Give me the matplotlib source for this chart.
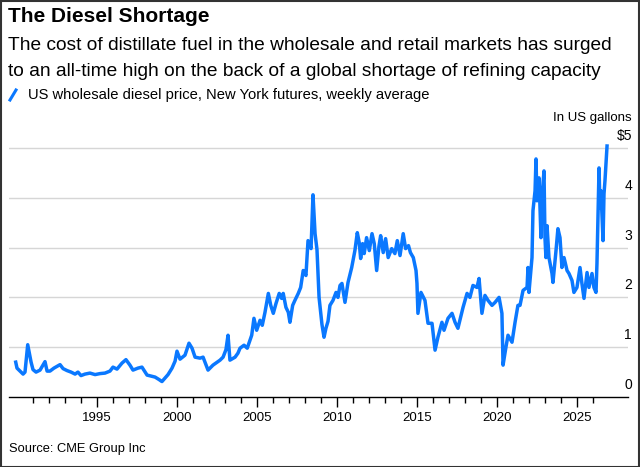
import matplotlib
matplotlib.use("Agg")
import matplotlib.pyplot as plt
import matplotlib.transforms as mtransforms
from matplotlib.lines import Line2D
from matplotlib.patches import Rectangle

# weekly average diesel price (year, $ per US gallon)
years = [
    1989.94, 1990.02, 1990.21, 1990.40, 1990.52, 1990.69, 1990.77, 1990.90,
    1991.02, 1991.21, 1991.46, 1991.77, 1991.90, 1992.08, 1992.33, 1992.71,
    1992.90, 1993.15, 1993.40, 1993.65, 1993.83, 1994.02, 1994.27, 1994.58,
    1994.90, 1995.21, 1995.52, 1995.83, 1996.02, 1996.27, 1996.58, 1996.83,
    1997.08, 1997.27, 1997.58, 1997.83, 1998.15, 1998.40, 1998.65, 1998.90,
    1999.08, 1999.27, 1999.46, 1999.71, 1999.90, 2000.02, 2000.21, 2000.52,
    2000.77, 2000.96, 2001.15, 2001.46, 2001.65, 2001.96, 2002.27, 2002.71,
    2002.90, 2003.08, 2003.21, 2003.33, 2003.65, 2003.83, 2003.96, 2004.21,
    2004.41, 2004.69, 2004.83, 2005.00, 2005.21, 2005.35, 2005.52, 2005.73,
    2005.88, 2006.04, 2006.21, 2006.41, 2006.56, 2006.66, 2006.83, 2006.98,
    2007.08, 2007.25, 2007.39, 2007.60, 2007.75, 2007.91, 2008.08, 2008.21,
    2008.40, 2008.52, 2008.65, 2008.77, 2008.90, 2009.08, 2009.21, 2009.33,
    2009.46, 2009.58, 2009.77, 2009.96, 2010.08, 2010.21, 2010.33, 2010.52,
    2010.71, 2010.94, 2011.14, 2011.29, 2011.41, 2011.50, 2011.62, 2011.72,
    2011.87, 2012.04, 2012.21, 2012.35, 2012.50, 2012.64, 2012.75, 2012.91,
    2013.06, 2013.22, 2013.44, 2013.64, 2013.79, 2013.96, 2014.16, 2014.31,
    2014.49, 2014.61, 2014.79, 2014.96, 2015.02, 2015.08, 2015.27, 2015.52,
    2015.71, 2015.96, 2016.15, 2016.33, 2016.58, 2016.71, 2016.96, 2017.21,
    2017.40, 2017.58, 2017.90, 2018.15, 2018.33, 2018.52, 2018.77, 2018.90,
    2019.08, 2019.27, 2019.46, 2019.71, 2019.90, 2020.15, 2020.33, 2020.40,
    2020.58, 2020.71, 2020.96, 2021.15, 2021.33, 2021.46, 2021.65, 2021.90,
    2021.96, 2022.02, 2022.21, 2022.27, 2022.40, 2022.46, 2022.52, 2022.65,
    2022.71, 2022.77, 2022.83, 2022.96, 2023.02, 2023.08, 2023.15, 2023.27,
    2023.46, 2023.52, 2023.71, 2023.83, 2023.96, 2024.08, 2024.21, 2024.40,
    2024.52, 2024.71, 2024.83, 2025.02, 2025.21, 2025.33, 2025.46, 2025.65,
    2025.77, 2025.96, 2026.08, 2026.21, 2026.27, 2026.40, 2026.46, 2026.52,
    2026.65, 2026.71, 2026.77, 2026.90,
]
prices = [
    0.70, 0.58, 0.52, 0.46, 0.50, 1.05, 0.92, 0.70,
    0.55, 0.50, 0.54, 0.71, 0.52, 0.52, 0.58, 0.65,
    0.57, 0.53, 0.50, 0.46, 0.50, 0.43, 0.46, 0.48,
    0.45, 0.47, 0.48, 0.52, 0.60, 0.56, 0.68, 0.75,
    0.64, 0.54, 0.58, 0.60, 0.44, 0.42, 0.40, 0.35,
    0.31, 0.38, 0.45, 0.58, 0.72, 0.92, 0.76, 0.84,
    1.08, 0.98, 0.80, 0.78, 0.80, 0.54, 0.64, 0.74,
    0.80, 0.95, 1.24, 0.74, 0.80, 0.88, 0.98, 1.04,
    0.98, 1.24, 1.58, 1.34, 1.54, 1.44, 1.70, 2.08,
    1.84, 1.68, 1.88, 2.08, 1.98, 2.08, 1.80, 1.70,
    1.50, 1.84, 1.94, 2.08, 2.20, 2.54, 2.44, 3.14,
    2.98, 4.06, 3.28, 2.96, 2.00, 1.46, 1.20, 1.38,
    1.52, 1.84, 1.94, 2.10, 2.00, 2.24, 2.28, 1.90,
    2.30, 2.60, 2.94, 3.30, 3.10, 2.78, 3.08, 2.88,
    3.20, 2.94, 3.28, 3.08, 2.54, 3.02, 3.24, 2.90,
    3.18, 2.80, 2.98, 2.88, 3.14, 2.84, 3.28, 2.98,
    3.04, 2.90, 2.80, 2.54, 2.28, 1.68, 2.10, 1.94,
    1.48, 1.48, 0.94, 1.20, 1.50, 1.34, 1.58, 1.68,
    1.50, 1.38, 1.80, 2.08, 2.00, 2.24, 2.20, 2.38,
    1.68, 2.04, 1.94, 1.84, 1.90, 2.00, 1.68, 0.64,
    1.00, 1.24, 1.10, 1.50, 1.84, 1.84, 2.14, 2.20,
    2.60, 2.10, 2.80, 3.74, 4.14, 4.78, 3.94, 4.40,
    3.80, 3.20, 4.00, 4.54, 3.20, 2.80, 3.44, 2.80,
    2.48, 2.30, 2.94, 3.38, 3.20, 2.60, 2.80, 2.54,
    2.48, 2.34, 2.10, 2.20, 2.60, 2.28, 1.98, 2.50,
    2.20, 2.48, 2.20, 2.10, 2.68, 4.60, 3.80, 4.14,
    3.14, 4.08, 4.34, 5.04,
]

major_years = [1995, 2000, 2005, 2010, 2015, 2020, 2025]
minor_years = list(range(1991, 2027))
y_levels = [0, 1, 2, 3, 4, 5]
y_labels = ["0", "1", "2", "3", "4", "$5"]

W, H = 640, 467
blue = "#0a78ff"
plt.rcParams["font.family"] = ["Liberation Sans", "DejaVu Sans"]

fig = plt.figure(figsize=(W / 100, H / 100), dpi=100)
fig.patch.set_facecolor("white")

# axes placed in pixel terms
ax_l, ax_r, ax_b = 9, 628, 397
ymax = 5.2
px_per_unit = 49.8
ax_t = ax_b - ymax * px_per_unit
ax = fig.add_axes([ax_l / W, 1 - ax_b / H, (ax_r - ax_l) / W, (ax_b - ax_t) / H])
ax.set_xlim(1989.52, 2028.21)
ax.set_ylim(0, ymax)

for v in y_levels[1:]:
    ax.axhline(v, color="#d6d6d6", lw=1.0, zorder=1)

ax.plot(years, prices, color=blue, lw=2.5, zorder=3, clip_on=False,
        solid_joinstyle="round")

for s in ["top", "right", "left"]:
    ax.spines[s].set_visible(False)
ax.spines["bottom"].set_color("black")
ax.spines["bottom"].set_linewidth(1.0)
ax.set_yticks([])
ax.set_xticks(major_years)
ax.set_xticks(minor_years, minor=True)
ax.set_xticklabels([str(y) for y in major_years])
ax.tick_params(axis="x", which="major", length=7, width=1, color="black",
               labelsize=9.5, pad=4, labelcolor="black")
ax.tick_params(axis="x", which="minor", length=4, width=1, color="black")

# y labels sit above gridlines on the right
trans = mtransforms.blended_transform_factory(ax.transAxes, ax.transData)
for v, lab in zip(y_levels, y_labels):
    ax.text(1 + 4 / (ax_r - ax_l), v + 12 / px_per_unit, lab, transform=trans,
            ha="right", va="center", fontsize=10, color="black")

fig.text(632 / W, 1 - 118 / H, "In US gallons", ha="right", va="center",
         fontsize=9.5, color="black")

# headline texts
fig.text(8 / W, 1 - 16 / H, "The Diesel Shortage", ha="left", va="center",
         fontsize=15, fontweight="bold", color="black")
fig.text(8 / W, 1 - 46 / H,
         "The cost of distillate fuel in the wholesale and retail markets has surged",
         ha="left", va="center", fontsize=13.8, color="black")
fig.text(8 / W, 1 - 71 / H,
         "to an all-time high on the back of a global shortage of refining capacity",
         ha="left", va="center", fontsize=13.8, color="black")

# legend
fig.add_artist(Line2D([10 / W, 16 / W], [1 - 100 / H, 1 - 90 / H], color=blue,
                      lw=2.2, transform=fig.transFigure))
fig.text(28 / W, 1 - 95 / H,
         "US wholesale diesel price, New York futures, weekly average",
         ha="left", va="center", fontsize=10.6, color="black")

fig.text(9 / W, 1 - 449 / H, "Source: CME Group Inc", ha="left", va="center",
         fontsize=9.3, color="black")

# outer frame
fig.add_artist(Rectangle((0.5 / W, 0.5 / H), 1 - 1.5 / W, 1 - 1.5 / H,
                         transform=fig.transFigure, fill=False,
                         edgecolor="#333333", lw=1.5))

fig.savefig("out.png", dpi=100)
